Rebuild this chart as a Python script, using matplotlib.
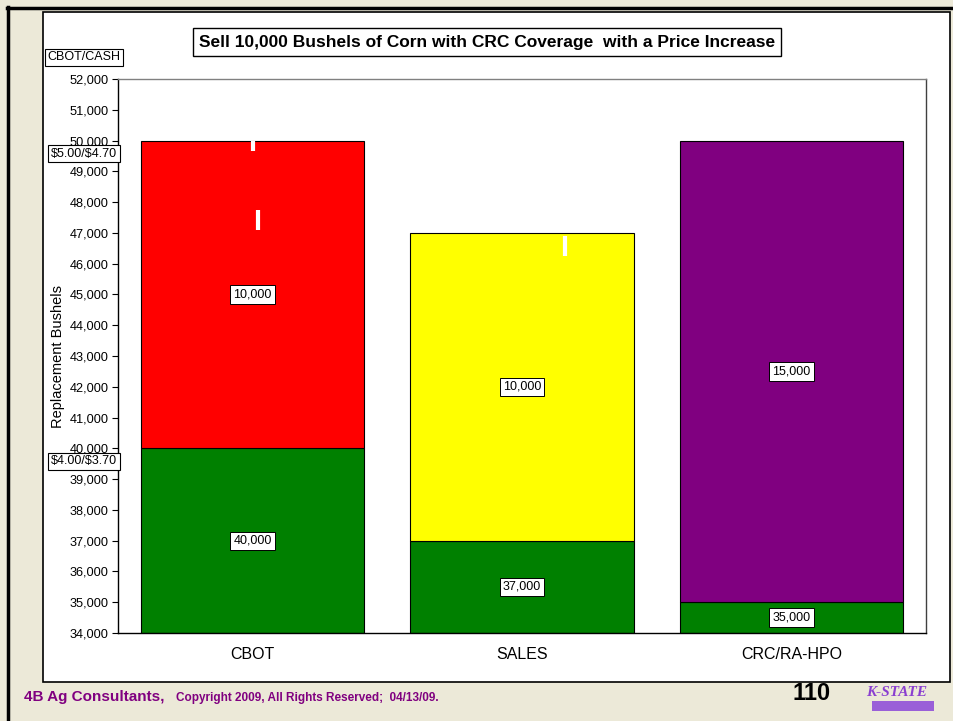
import matplotlib
matplotlib.use("Agg")
import matplotlib.pyplot as plt
from matplotlib.patches import Rectangle
from matplotlib.lines import Line2D

plt.rcParams['font.family'] = ['Liberation Sans', 'DejaVu Sans']

categories = ["CBOT", "SALES", "CRC/RA-HPO"]
base_values = [40000, 37000, 35000]
top_values = [10000, 10000, 15000]
base_labels = ["40,000", "37,000", "35,000"]
top_labels = ["10,000", "10,000", "15,000"]
top_colors = ["#FF0000", "#FFFF00", "#800080"]
base_color = "#008000"
y_ticks = list(range(34000, 52001, 1000))
price_labels = ["$5.00/$4.70", "$4.00/$3.70"]
price_levels = [50000, 40000]

W, H = 954, 721
fig = plt.figure(figsize=(W / 100, H / 100), dpi=100)
fig.patch.set_facecolor("#ECE9D8")

def fx(px):
    return px / W

def fy(py):
    return 1 - py / H

# slide frame lines
fig.add_artist(Line2D([fx(7), fx(954)], [fy(8), fy(8)], color="black", lw=2.5, zorder=-4))
fig.add_artist(Line2D([fx(8), fx(8)], [fy(7), fy(721)], color="black", lw=2.5, zorder=-4))
# white chart panel
fig.add_artist(Rectangle((fx(43), fy(682)), fx(950) - fx(43), fy(12) - fy(682),
                         facecolor="white", edgecolor="black", lw=1.2, zorder=-5))

ax = fig.add_axes([fx(118), fy(633), fx(926) - fx(118), fy(79) - fy(633)])
ax.set_zorder(2)
ax.set_facecolor("white")
x = range(len(categories))
ymin = 34000
vis_base = [b - ymin for b in base_values]
ax.bar(x, vis_base, bottom=ymin, width=0.83, color=base_color, edgecolor="black", lw=0.8)
ax.bar(x, top_values, bottom=base_values, width=0.83, color=top_colors, edgecolor="black", lw=0.8)

box = dict(boxstyle="square,pad=0.25", facecolor="white", edgecolor="black", lw=0.7)
for i in x:
    ax.text(i, (ymin + base_values[i]) / 2, base_labels[i], ha="center", va="center",
            fontsize=9, bbox=box)
    ax.text(i, base_values[i] + top_values[i] / 2, top_labels[i], ha="center", va="center",
            fontsize=9, bbox=box)

# small white artifacts inside bars
ax.plot([0.0, 0.0], [49650, 50000], color="white", lw=3, solid_capstyle="butt")
ax.plot([0.02, 0.02], [47100, 47750], color="white", lw=3, solid_capstyle="butt")
ax.plot([1.16, 1.16], [46250, 46900], color="white", lw=3, solid_capstyle="butt")

ax.set_xlim(-0.5, 2.5)
ax.set_ylim(34000, 52000)
ax.set_yticks(y_ticks)
ax.set_yticklabels([f"{v:,}" for v in y_ticks], fontsize=9.2)
ax.set_xticks(list(x))
ax.set_xticklabels(categories, fontsize=11.5)
ax.tick_params(axis="y", length=4, width=0.8, pad=3)
ax.tick_params(axis="x", length=0, pad=10)
ax.set_ylabel("Replacement Bushels", fontsize=10.5, labelpad=3)
ax.spines["left"].set_color("black")
ax.spines["bottom"].set_color("black")
ax.spines["top"].set_color("#808080")
ax.spines["right"].set_color("#404040")
for s in ax.spines.values():
    s.set_linewidth(1.0)

# left price labels
lbox = dict(boxstyle="square,pad=0.2", facecolor="white", edgecolor="black", lw=0.8)
fig.text(fx(84), fy(57), "CBOT/CASH", ha="center", va="center", fontsize=9, bbox=lbox, zorder=3)
for lab, lev in zip(price_labels, price_levels):
    ax.annotate(lab, xy=(0, lev), xycoords=("axes fraction", "data"),
                xytext=(-34, -13), textcoords="offset pixels", ha="center", va="center",
                fontsize=9, bbox=lbox, annotation_clip=False, parse_math=False, zorder=5)

# title
fig.text(fx(487), fy(42), "Sell 10,000 Bushels of Corn with CRC Coverage  with a Price Increase",
         ha="center", va="center", fontsize=12.5, fontweight="bold",
         bbox=dict(boxstyle="square,pad=0.35", facecolor="white", edgecolor="black", lw=1.0),
         zorder=3)

# footer
fig.text(fx(24), fy(697), "4B Ag Consultants,", ha="left", va="center", fontsize=11,
         fontweight="bold", color="#800080")
fig.text(fx(176), fy(698), "Copyright 2009, All Rights Reserved;  04/13/09.", ha="left", va="center",
         fontsize=8.5, fontweight="bold", color="#800080")
fig.text(fx(812), fy(694), "110", ha="center", va="center", fontsize=17, fontweight="bold",
         color="black")
fig.text(fx(897), fy(692), "K-STATE", ha="center", va="center", fontsize=11, fontweight="bold",
         style="italic", color="#8A3FD0", family=["Liberation Serif", "DejaVu Serif"])
fig.add_artist(Rectangle((fx(872), fy(711)), fx(62), fy(701) - fy(711), facecolor="#9A5FD8",
                         edgecolor="none"))

fig.savefig("out.png", dpi=100, facecolor=fig.get_facecolor())
